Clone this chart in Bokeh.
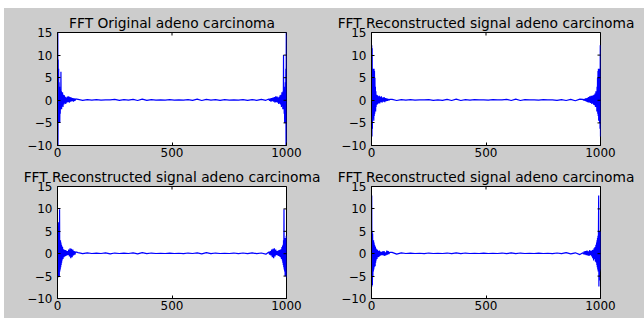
import math
from bokeh.plotting import figure
from bokeh.layouts import column, row, Spacer
from bokeh.models import FixedTicker, Range1d
from bokeh.embed import file_html
from bokeh.resources import INLINE

# ---------------- data ----------------
titles = [
    "FFT Original adeno carcinoma",
    "FFT Reconstructed signal adeno carcinoma",
    "FFT Reconstructed signal adeno carcinoma",
    "FFT Reconstructed signal adeno carcinoma",
]
x_ticks = [0, 500, 1000]
y_ticks = [-10, -5, 0, 5, 10, 15]
x_limits = [0, 1000]
y_limits = [-10, 15]

sample_index = [
    1, 2, 3, 4, 5, 6, 7, 8, 9, 10, 11, 12, 13, 14, 15, 16, 17, 18, 19, 20,
    22, 24, 26, 28, 30, 32, 34, 36, 38, 40,
    43, 46, 49, 52, 55, 58, 61, 64, 67, 70, 73, 76, 79,
    90, 110, 130, 150, 170, 190, 210, 230, 250, 270, 290, 310, 330, 350, 370,
    390, 410, 430, 450, 470, 490, 510, 530, 550, 570, 590, 610, 630, 650, 670,
    690, 710, 730, 750, 770, 790, 810, 830, 850, 870, 890, 910,
    923, 926, 929, 932, 935, 938, 941, 944, 947, 950, 953, 956, 959,
    962, 964, 966, 968, 970, 972, 974, 976, 978, 980,
    982, 983, 984, 985, 986, 987, 988, 989, 990, 991, 992, 993, 994, 995, 996,
    997, 998, 999, 1000,
]

fft_original = [
    30, -12, 9, -5, 7, -5, 4, -4.5, 3, -5, 2, -3, 2.5, -2, 6.3, -1.5, 2, -2, 1.5, -1.2,
    1.8, -1.5, 1.2, -0.9, 1.1, -0.7, 0.8, -0.8, 0.6, -0.5,
    0.8, -0.4, 0.9, -0.5, 0.7, -0.3, 0.6, -0.2, 0.5, -0.3, 0.4, -0.1, 0.3,
    0.2, 0.0, 0.15, 0.05, 0.15, 0.05, 0.1, 0.1, 0.2, 0.0, 0.15, 0.05, 0.2, -0.05, 0.25,
    0.0, 0.15, 0.05, 0.1, 0.05, 0.15, 0.05, 0.1, 0.05, 0.15, 0.0, 0.25, -0.05, 0.2, 0.05,
    0.15, 0.0, 0.15, 0.05, 0.1, 0.05, 0.15, 0.0, 0.15, 0.0, 0.2, 0.0,
    0.3, -0.1, 0.4, -0.3, 0.5, -0.2, 0.6, -0.3, 0.7, -0.5, 0.9, -0.4, 0.8,
    -0.5, 0.6, -0.8, 0.8, -0.7, 1.1, -0.9, 1.2, -1.5, 1.8,
    -1.2, 1.5, -2, 2, -1.5, 10, -2, 2.5, -3, 2, -5, 3, -4.5, 4, -5,
    7, -10.5, 16, -12,
]

fft_recon_a = [
    12.2, -8, 11.5, -6.3, 7, -4, 7, -4, 6.8, -4.5, 7, -3.5, 6.5, -3, 5, -2, 3, -2.5, 2, -1.5,
    1.2, -1.0, 1.1, -0.8, 0.9, -0.6, 1.0, -0.7, 0.8, -0.4,
    0.9, -0.5, 0.6, -0.3, 0.7, -0.4, 0.5, -0.2, 0.4, -0.1, 0.3, 0.0, 0.2,
    0.2, -0.05, 0.15, 0.05, 0.15, 0.05, 0.1, 0.1, 0.15, 0.0, 0.1, 0.0, 0.2, -0.05, 0.25,
    -0.05, 0.15, 0.05, 0.15, 0.1, 0.1, 0.05, 0.15, 0.1, 0.1, 0.2, -0.05, 0.25, -0.05, 0.15,
    0.1, 0.1, 0.05, 0.15, 0.1, 0.1, 0.0, 0.15, -0.05, 0.2, -0.1, 0.25,
    0.2, 0.0, 0.3, -0.1, 0.4, -0.3, 0.5, -0.4, 0.7, -0.5, 0.9, -0.6, 1.0,
    -0.8, 1.0, -0.7, 1.1, -1.0, 1.2, -1.1, 1.5, -1.5, 2.0,
    -1.5, 2, -2.5, 3, -2, 5, -3, 6.5, -3.5, 7, -4.5, 6.8, -4, 7, -5,
    7, -6.3, 12.2, -8,
]

fft_recon_b = [
    4, -5.3, 6, -5, 7, -4.5, 5, -5, 9.9, -4, 3, -3.5, 3, -3, 2.5, -2.5, 2, -2, 1.8, -1.5,
    1.5, -1.2, 1.0, -0.8, 0.9, -0.6, 0.8, -0.5, 0.7, -0.4,
    0.6, -0.3, 0.9, -0.6, 1.2, -1.0, 1.1, -0.8, 0.9, -0.4, 0.6, -0.2, 0.4,
    0.25, 0.0, 0.2, 0.05, 0.15, 0.05, 0.2, -0.05, 0.15, 0.05, 0.15, 0.05, 0.2, -0.05, 0.25,
    0.0, 0.15, 0.05, 0.1, 0.05, 0.15, 0.05, 0.1, 0.0, 0.15, 0.05, 0.2, -0.05, 0.25, 0.0,
    0.15, 0.05, 0.1, 0.05, 0.15, 0.0, 0.15, 0.0, 0.2, 0.0, 0.15, -0.1,
    0.4, -0.2, 0.6, -0.4, 0.9, -0.8, 1.1, -1.0, 1.2, -0.6, 0.9, -0.3, 0.6,
    -0.4, 0.7, -0.5, 0.8, -0.6, 0.9, -0.8, 1.0, -1.2, 1.5,
    -1.5, 1.8, -2, 2, -2.5, 3, -3, 9.9, -3.5, 3.5, -4, 3, -5, 3.5, -4.5,
    3, -5, 4, -5.3,
]

fft_recon_c = [
    13, -7.3, 5, -7, 4.5, -5, 3, -4, 3, -3.5, 2.5, -3, 2, -2.5, 1.8, -2.8, 1.5, -2, 1.2, -1.5,
    1.0, -1.2, 0.9, -0.8, 0.6, -0.7, 0.7, -0.5, 0.5, -0.4,
    0.4, -0.3, 0.5, -0.4, 0.6, -0.5, 0.3, -0.3, 0.7, -0.2, 0.6, -0.1, 0.3,
    0.3, -0.1, 0.2, 0.05, 0.15, 0.05, 0.1, 0.0, 0.15, 0.05, 0.1, 0.05, 0.15, 0.0, 0.2,
    0.0, 0.15, 0.05, 0.1, 0.05, 0.15, 0.05, 0.1, 0.05, 0.15, 0.0, 0.2, 0.0, 0.15, 0.05,
    0.1, 0.05, 0.15, 0.05, 0.1, 0.0, 0.15, 0.0, 0.25, -0.05, 0.2, -0.2,
    0.2, -0.1, 0.5, -0.2, 0.6, -0.3, 0.7, -0.4, 0.5, -0.5, 0.8, -0.3, 0.6,
    -0.6, 0.8, -1.0, 0.9, -1.5, 1.2, -1.2, 1.5, -1.8, 2.0,
    -2, 2.5, -2.5, 3, -3, 3.5, -3.5, 4, -4, 4.5, 13, -7.3, 5, -6, 4.8,
    -4, 5, -3.5, 5,
]

series = [fft_original, fft_recon_a, fft_recon_b, fft_recon_c]

# ---------------- styling ----------------
BG = "#cccccc"
FONT = "DejaVu Sans"


def style_axis(ax, ticks):
    ax.ticker = FixedTicker(ticks=ticks)
    ax.axis_line_color = "black"
    ax.major_tick_line_color = "black"
    ax.major_tick_in = 3
    ax.major_tick_out = 0
    ax.minor_tick_line_color = None
    ax.major_label_text_font = FONT
    ax.major_label_text_color = "black"
    ax.major_label_text_font_size = "12px"


def make(title, ys, w, h, ml, mr, mt, mb):
    p = figure(width=w, height=h,
               x_range=Range1d(x_limits[0], x_limits[1]),
               y_range=Range1d(y_limits[0], y_limits[1]),
               output_backend="svg", toolbar_location=None,
               min_border_left=ml, min_border_right=mr,
               min_border_top=mt, min_border_bottom=mb)
    p.border_fill_color = BG
    p.background_fill_color = "white"
    p.outline_line_color = "black"
    p.grid.visible = False
    p.title.text = title
    p.title.align = "center"
    p.title.text_font = FONT
    p.title.text_font_size = "13.8px"
    p.title.text_font_style = "normal"
    p.title.text_color = "black"
    p.title.standoff = 4

    style_axis(p.xaxis[0], x_ticks)
    p.xaxis[0].major_label_standoff = 2
    style_axis(p.yaxis[0], y_ticks)
    p.yaxis[0].major_label_standoff = 5

    p.line(sample_index, ys, line_color="#0000ff", line_width=1.2)

    # inward box ticks on the top and right edges (MATLAB "box on")
    p.scatter(x=x_ticks, y=[y_limits[1]] * len(x_ticks), marker="dash",
              size=6, angle=math.pi / 2, line_color="black", line_width=1)
    p.scatter(x=[x_limits[1]] * len(y_ticks), y=y_ticks, marker="dash",
              size=6, line_color="black", line_width=1)
    return p


p1 = make(titles[0], series[0], 318, 153, 53, 36, 24, 16)
p2 = make(titles[1], series[1], 322, 153, 49, 44, 24, 16)
p3 = make(titles[2], series[2], 318, 157, 53, 36, 25, 20)
p4 = make(titles[3], series[3], 322, 157, 49, 44, 25, 20)

grid = row(column(p1, p3, styles={"background-color": BG}),
           column(p2, p4, styles={"background-color": BG}),
           styles={"background-color": BG})

layout = column(
    Spacer(width=644, height=8),
    row(Spacer(width=4, height=310), grid),
)

open("out.html", "w").write(file_html(layout, INLINE))
